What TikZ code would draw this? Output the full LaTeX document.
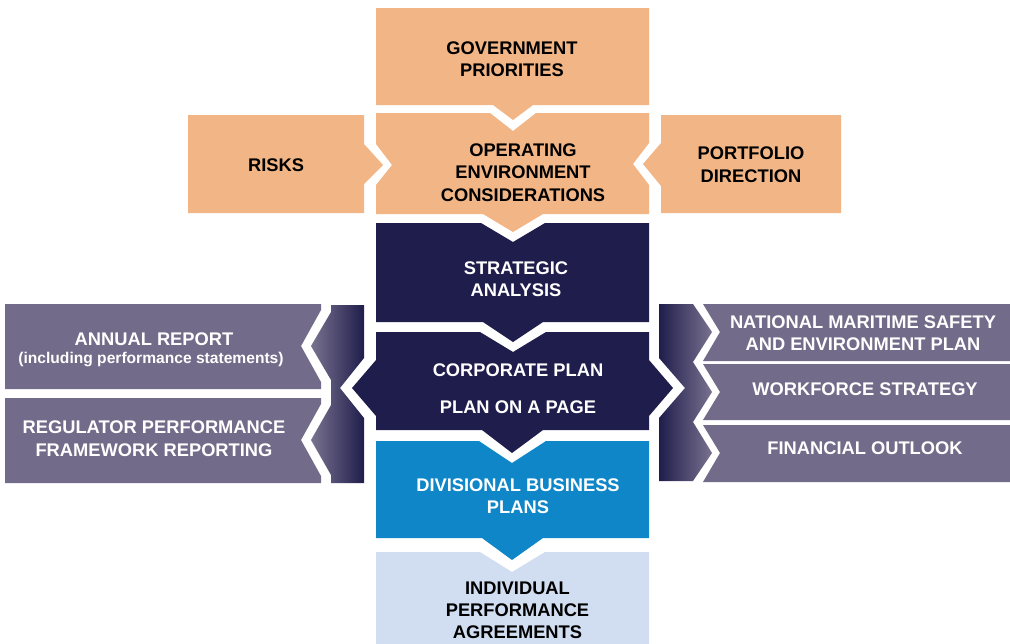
\documentclass[tikz,border=0pt]{standalone}
\usepackage{fontspec}
\setmainfont{Liberation Sans}
\definecolor{orng}{HTML}{F2B585}
\definecolor{navy}{HTML}{1F1D4C}
\definecolor{midblue}{HTML}{0E86C8}
\definecolor{paleblue}{HTML}{D1DDF0}
\definecolor{purp}{HTML}{726B89}
\begin{document}
\begin{tikzpicture}[x=1pt,y=-1pt,
  lbl/.style={align=center,inner sep=0pt,font=\bfseries\fontsize{18.3}{22}\selectfont},
  dark/.style={lbl,text=black},
  light/.style={lbl,text=white}]
\useasboundingbox (0,0) rectangle (1010,643);
% ---- centre column ----
\fill[orng] (376,8) -- (649,8) -- (649,105) -- (533,105) -- (513,120) -- (493,105) -- (376,105) -- cycle;
\fill[orng] (376,113) -- (490,113) -- (513,131) -- (536,113) -- (649,113) -- (649,143) -- (633,164) -- (649,185) -- (649,214) -- (543,214) -- (513,232) -- (483,214) -- (376,214) -- (376,185) -- (392,165) -- (376,144) -- cycle;
\fill[orng] (188,115) -- (364,115) -- (364,144) -- (383,165) -- (364,184) -- (364,213) -- (188,213) -- cycle;
\fill[orng] (841,115) -- (661,115) -- (661,143) -- (643,164) -- (661,186) -- (661,213) -- (841,213) -- cycle;
\fill[navy] (376,223) -- (481,223) -- (513,242) -- (545,223) -- (649,223) -- (649,322) -- (543,322) -- (513,342) -- (483,322) -- (376,322) -- cycle;
\fill[navy] (376,332) -- (480,332) -- (513,352) -- (546,332) -- (649,332) -- (649,360) -- (673,388) -- (649,416) -- (649,430) -- (543,430) -- (512,453) -- (482,430) -- (376,430) -- (376,416) -- (352,388) -- (376,360) -- cycle;
\fill[midblue] (376,441) -- (479,441) -- (512,463) -- (546,441) -- (649,441) -- (649,538) -- (543,538) -- (512,560) -- (482,538) -- (376,538) -- cycle;
\fill[paleblue] (376,552) -- (480,552) -- (512,572) -- (545,552) -- (649,552) -- (649,650) -- (376,650) -- cycle;
% ---- side bars ----
\shade[left color=purp!95!white, right color=navy] (331,305) -- (364,305) -- (364,358) -- (340,388) -- (364,418) -- (364,483) -- (331,483) -- (331,475) -- (311,440) -- (331,405) -- (331,380) -- (311,346) -- (331,312) -- cycle;
\shade[left color=navy, right color=purp!95!white] (659,304) -- (693,304) -- (712,332) -- (693,362) -- (712,392) -- (693,422) -- (712,453) -- (693,481) -- (659,481) -- (659,418) -- (685,388) -- (659,358) -- cycle;
% ---- side boxes ----
\fill[purp] (5,304) -- (321,304) -- (321,310) -- (301,346) -- (321,382) -- (321,389) -- (5,389) -- cycle;
\fill[purp] (5,398) -- (321,398) -- (321,404) -- (301,440) -- (321,476) -- (321,483) -- (5,483) -- cycle;
\fill[purp] (703,304) -- (1010,304) -- (1010,361) -- (703,361) -- (720,332) -- cycle;
\fill[purp] (703,364) -- (1010,364) -- (1010,420) -- (703,420) -- (720,392) -- cycle;
\fill[purp] (703,425) -- (1010,425) -- (1010,482) -- (703,482) -- (720,453) -- cycle;
% ---- labels ----
\node[dark] (gov) at (512,59.2) {GOVERNMENT\\PRIORITIES};
\node[dark,font=\bfseries\fontsize{18.3}{22.5}\selectfont] (oper) at (523,172.5) {OPERATING\\ENVIRONMENT\\CONSIDERATIONS};
\node[dark] (risks) at (276,165) {RISKS};
\node[dark,font=\bfseries\fontsize{18.3}{23}\selectfont] (port) at (751,164.5) {PORTFOLIO\\DIRECTION};
\node[light] (strat) at (516,279) {STRATEGIC\\ANALYSIS};
\node[light] (corp) at (518,369.7) {CORPORATE PLAN};
\node[light] (poap) at (518,407.5) {PLAN ON A PAGE};
\node[light,font=\bfseries\fontsize{18.3}{21.5}\selectfont] (div) at (518,496) {DIVISIONAL BUSINESS\\PLANS};
\node[dark,font=\bfseries\fontsize{18.3}{22.2}\selectfont] (indiv) at (517.5,610.5) {INDIVIDUAL\\PERFORMANCE\\AGREEMENTS};
\node[light] (annual) at (154,339) {ANNUAL REPORT};
\node[light,font=\bfseries\fontsize{15.6}{18}\selectfont] (annualsub) at (151,359) {(including performance statements)};
\node[light,font=\bfseries\fontsize{18.3}{22.6}\selectfont] (reg) at (154,438.5) {REGULATOR PERFORMANCE\\FRAMEWORK REPORTING};
\node[light,font=\bfseries\fontsize{18.3}{21.8}\selectfont] (nms) at (863,333.1) {NATIONAL MARITIME SAFETY\\AND ENVIRONMENT PLAN};
\node[light] (work) at (865,389.5) {WORKFORCE STRATEGY};
\node[light] (fin) at (865,447.8) {FINANCIAL OUTLOOK};
\end{tikzpicture}
\end{document}
